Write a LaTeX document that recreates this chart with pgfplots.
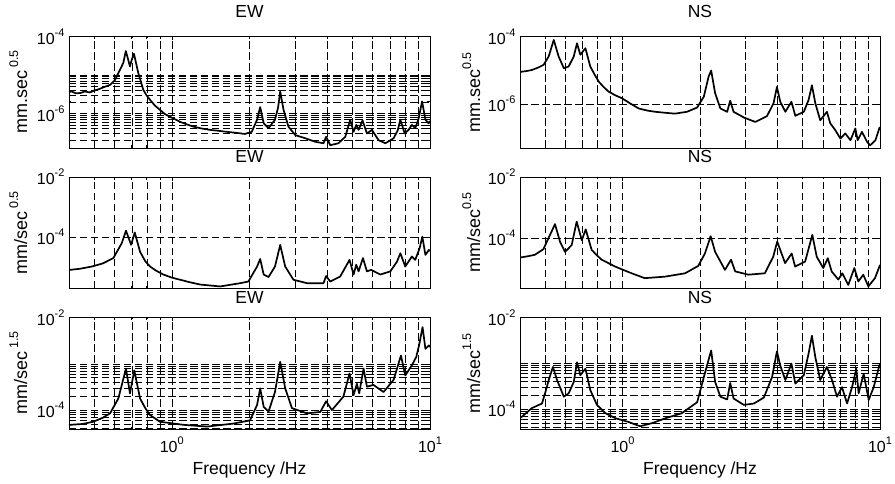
\documentclass[border=0pt]{standalone}
\usepackage{fontspec}
\setmainfont{Liberation Sans}
\usepackage{pgfplots}
\pgfplotsset{compat=1.18}
\newcommand\sups[1]{\raisebox{8pt}{\fontsize{11}{11}\selectfont #1}}
\newcommand\lsup[1]{\raisebox{9pt}{\fontsize{12.5}{12.5}\selectfont #1}}
\pgfplotsset{
  myax/.style={
    scale only axis,
    height=111.5pt,
    xmin=0.4, xmax=10,
    xtick={1,10},
    xticklabels={},
    minor xtick={0.5,0.6,0.7,0.8,0.9,2,3,4,5,6,7,8,9},
    xmajorgrids, xminorgrids, ymajorgrids,
    major grid style={black, line width=0.45pt, dash pattern=on 7.5pt off 3.5pt},
    minor grid style={black, line width=0.45pt, dash pattern=on 7.5pt off 3.5pt},
    axis line style={black, line width=0.9pt},
    tick align=inside,
    major tick length=4pt, minor tick length=2.5pt,
    tick style={black, line width=0.5pt},
    tick label style={font=\fontsize{16}{19}\selectfont},
    yticklabel style={anchor=east, xshift=-1pt},
    xticklabel style={anchor=north, yshift=-4pt},
    title style={font=\fontsize{17.5}{20}\selectfont, anchor=base},
    ylabel style={font=\fontsize{18}{20}\selectfont, anchor=base},
    xlabel style={font=\fontsize{17.5}{20}\selectfont, anchor=base, at={(axis description cs:0.5,-0.412)}},
  },
  myleft/.style={width=361pt, ylabel style={at={(axis description cs:-0.1163,0.5)}}},
  myright/.style={width=360pt, ylabel style={at={(axis description cs:-0.111,0.5)}}},
  mytop/.style={title style={at={(axis description cs:0.5,1.117)}}},
  mymid/.style={title style={at={(axis description cs:0.5,1.075)}}},
  mybot/.style={title style={at={(axis description cs:0.5,1.07)}},
     xticklabels={10\sups{0},10\sups{1}}, xlabel={Frequency /Hz}},
}
\tikzset{mycurve/.style={black, line width=1.7pt, line join=round}}
\begin{document}
\begin{tikzpicture}
\useasboundingbox (0pt,0pt) rectangle (895pt,484pt);

% ---------- Top left ----------
\begin{loglogaxis}[myax, myleft, mytop, at={(69pt,336pt)}, anchor=south west,
  title={EW}, ylabel={mm.sec\,\lsup{0.5}},
  ymin=1.25e-7, ymax=1e-4, ytick={1e-6,1e-4},
  yticklabels={10\sups{-6},10\sups{-4}},
  yminorgrids,
  minor ytick={2e-7,3e-7,4e-7,5e-7,6e-7,7e-7,8e-7,9e-7,2e-6,3e-6,4e-6,5e-6,6e-6,7e-6,8e-6,9e-6,1e-5}]
\addplot[mycurve] coordinates {
(0.40,3.6e-6)(0.41,3.7e-6)(0.425,3.3e-6)(0.445,3.4e-6)(0.46,3.7e-6)(0.482,3.5e-6)(0.50,3.9e-6)(0.52,4.2e-6)(0.55,4.9e-6)(0.577,5.5e-6)(0.603,7.4e-6)(0.631,1.38e-5)
(0.649,2.04e-5)(0.664,4.17e-5)(0.677,2.6e-5)(0.689,1.66e-5)(0.70,2.5e-5)(0.714,3.55e-5)(0.742,1.12e-5)
(0.776,4.07e-6)(0.80,2.9e-6)(0.824,2.24e-6)(0.86,1.6e-6)(0.90,1.23e-6)(0.94,9.6e-7)(0.985,8.1e-7)(1.077,6.0e-7)
(1.14,5.2e-7)(1.213,4.5e-7)(1.31,4.0e-7)(1.41,3.7e-7)(1.52,3.5e-7)(1.63,3.3e-7)(1.78,3.1e-7)(1.92,2.9e-7)(2.04,3.3e-7)(2.14,6.8e-7)
(2.20,1.45e-6)(2.27,5.5e-7)(2.37,4.1e-7)(2.51,6.8e-7)(2.58,1.4e-6)(2.63,3.7e-6)(2.71,1.23e-6)
(2.83,4.5e-7)(3.01,2.7e-7)(3.29,2.24e-7)(3.59,1.82e-7)(3.87,1.66e-7)(3.96,2.45e-7)
(4.11,1.48e-7)(4.42,1.66e-7)(4.70,2.45e-7)(4.91,6.8e-7)(5.06,3.3e-7)(5.18,5.0e-7)
(5.29,3.7e-7)(5.48,6.5e-7)(5.70,3.0e-7)(5.96,3.7e-7)(6.32,2.0e-7)(6.72,1.66e-7)
(7.23,2.24e-7)(7.50,3.6e-7)(7.68,6.8e-7)(7.98,3.0e-7)(8.26,3.7e-7)(8.51,5.0e-7)(8.77,4.1e-7)
(9.04,7.4e-7)(9.32,2.04e-6)(9.6,6.8e-7)(9.88,5.5e-7)(10,6.3e-7)
};
\end{loglogaxis}

% ---------- Top right ----------
\begin{loglogaxis}[myax, myright, mytop, at={(520pt,336pt)}, anchor=south west,
  title={NS}, ylabel={mm.sec\lsup{0.5}},
  ymin=5e-8, ymax=1e-4, ytick={1e-6,1e-4},
  yticklabels={10\sups{-6},10\sups{-4}}]
\addplot[mycurve] coordinates {
(0.40,8.8e-6)(0.407,9.1e-6)(0.425,9.5e-6)(0.445,1.02e-5)(0.47,1.2e-5)(0.494,1.45e-5)(0.517,2.57e-5)(0.541,7.9e-5)(0.565,2.57e-5)
(0.592,1.15e-5)(0.618,1.29e-5)(0.647,2.57e-5)(0.666,6.3e-5)(0.686,2.88e-5)(0.718,4.5e-5)
(0.750,1.29e-5)(0.78,7.4e-6)(0.809,4.6e-6)(0.845,3.2e-6)(0.883,2.34e-6)(0.94,1.8e-6)(0.996,1.48e-6)(1.07,1.05e-6)(1.156,7.4e-7)(1.25,6.4e-7)(1.34,5.9e-7)
(1.47,5.5e-7)(1.60,5.2e-7)(1.78,5.9e-7)(1.95,7.9e-7)(2.07,1.66e-6)(2.16,6.5e-6)(2.21,9.8e-6)(2.29,2.09e-6)
(2.40,7.4e-7)(2.55,5.9e-7)(2.62,1.26e-6)(2.70,5.9e-7)(2.96,4.0e-7)(3.28,2.95e-7)
(3.64,4.4e-7)(3.86,1.05e-6)(3.98,3.2e-6)(4.10,1.17e-6)(4.29,5.9e-7)(4.53,1.17e-6)
(4.69,4.5e-7)(5.06,5.9e-7)(5.28,1.32e-6)(5.44,3.6e-6)(5.61,1.05e-6)(5.86,3.3e-7)
(6.22,5.9e-7)(6.41,2.7e-7)(6.70,1.7e-7)(7.02,9.5e-8)(7.33,1.35e-7)(7.68,8.5e-8)
(8.02,1.9e-7)(8.19,8.5e-8)(8.51,1.5e-7)(8.91,7.6e-8)(9.16,6.0e-8)(9.60,8.5e-8)(9.98,2.1e-7)
};
\end{loglogaxis}

% ---------- Middle left ----------
\begin{loglogaxis}[myax, myleft, mymid, at={(69pt,195.5pt)}, anchor=south west,
  title={EW}, ylabel={mm/sec\,\lsup{0.5}},
  ymin=2.0e-6, ymax=1e-2, ytick={1e-4,1e-2},
  yticklabels={10\sups{-4},10\sups{-2}}]
\addplot[mycurve] coordinates {
(0.40,8.0e-6)(0.404,8.3e-6)(0.44,9.0e-6)(0.49,1.07e-5)(0.54,1.35e-5)(0.594,2.04e-5)(0.64,6.3e-5)(0.665,1.66e-4)
(0.696,5.6e-5)(0.719,1.45e-4)(0.754,3.3e-5)(0.79,1.6e-5)(0.824,1.07e-5)(0.87,7.8e-6)(0.928,5.8e-6)(1.0,4.6e-6)(1.077,3.9e-6)
(1.18,3.2e-6)(1.29,2.7e-6)(1.54,2.34e-6)(1.84,3.0e-6)(1.98,3.4e-6)(2.14,1.07e-5)(2.20,1.9e-5)
(2.27,5.8e-6)(2.37,4.8e-6)(2.51,1.07e-5)(2.63,5.6e-5)(2.75,1.07e-5)(2.96,3.9e-6)
(3.34,3.0e-6)(3.87,3.0e-6)(3.96,5.2e-6)(4.11,3.4e-6)(4.49,5.0e-6)(4.88,1.78e-5)
(5.06,5.8e-6)(5.18,1.23e-5)(5.29,7.4e-6)(5.50,2.04e-5)(5.70,7.4e-6)(5.92,8.3e-6)
(6.42,5.8e-6)(7.02,7.4e-6)(7.45,1.55e-5)(7.68,2.95e-5)(8.02,1.07e-5)(8.51,2.3e-5)
(8.77,1.78e-5)(9.12,4.4e-5)(9.34,1.05e-4)(9.6,2.6e-5)(9.9,3.8e-5)(10,3.5e-5)
};
\end{loglogaxis}

% ---------- Middle right ----------
\begin{loglogaxis}[myax, myright, mymid, at={(520pt,195.5pt)}, anchor=south west,
  title={NS}, ylabel={mm/sec\lsup{0.5}},
  ymin=2.3e-6, ymax=1e-2, ytick={1e-4,1e-2},
  yticklabels={10\sups{-4},10\sups{-2}}]
\addplot[mycurve] coordinates {
(0.40,2.3e-5)(0.406,2.4e-5)(0.43,2.6e-5)(0.457,2.9e-5)(0.493,4.4e-5)(0.547,2.9e-4)(0.572,7.8e-5)(0.598,3.6e-5)
(0.635,6.0e-5)(0.664,3.5e-4)(0.695,8.7e-5)(0.72,1.95e-4)(0.759,4.2e-5)(0.795,2.8e-5)(0.830,2.0e-5)
(0.936,1.2e-5)(1.01,9.2e-6)(1.086,7.2e-6)(1.22,5.0e-6)(1.46,5.6e-6)(1.75,7.2e-6)(1.97,1.26e-5)
(2.09,3.2e-5)(2.20,1.17e-4)(2.29,3.6e-5)(2.50,9.3e-6)(2.64,2.0e-5)(2.74,8.3e-6)
(3.08,6.5e-6)(3.57,7.2e-6)(3.85,2.5e-5)(3.99,7.8e-5)(4.28,1.55e-5)(4.54,3.2e-5)
(4.68,1.2e-5)(5.12,1.74e-5)(5.46,1.29e-4)(5.68,2.5e-5)(6.02,1.07e-5)(6.27,2.24e-5)
(6.49,8.3e-6)(6.89,4.5e-6)(7.14,7.2e-6)(7.53,3.0e-6)(7.95,1.07e-5)(8.24,3.9e-6)
(8.61,6.5e-6)(9.01,2.7e-6)(9.56,5.0e-6)(10,1.35e-5)
};
\end{loglogaxis}

% ---------- Bottom left ----------
\begin{loglogaxis}[myax, myleft, mybot, at={(69pt,55pt)}, anchor=south west,
  title={EW}, ylabel={mm/sec\,\lsup{1.5}},
  ymin=3.9e-5, ymax=1e-2, ytick={1e-4,1e-2},
  yticklabels={10\sups{-4},10\sups{-2}},
  yminorgrids,
  minor ytick={4e-5,5e-5,6e-5,7e-5,8e-5,9e-5,2e-4,3e-4,4e-4,5e-4,6e-4,7e-4,8e-4,9e-4,1e-3}]
\addplot[mycurve] coordinates {
(0.40,4.7e-5)(0.404,4.8e-5)(0.45,5.0e-5)(0.497,5.6e-5)(0.54,6.8e-5)(0.577,8.5e-5)(0.621,1.78e-4)(0.665,7.9e-4)
(0.689,2.3e-4)(0.716,7.2e-4)(0.754,1.78e-4)(0.79,1.1e-4)(0.824,7.8e-5)(0.90,5.6e-5)(1.11,4.8e-5)
(1.37,4.4e-5)(1.73,5.1e-5)(2.01,6.0e-5)(2.14,1.29e-4)(2.20,2.95e-4)(2.27,1.17e-4)
(2.37,9.3e-5)(2.51,2.45e-4)(2.63,1.10e-3)(2.75,2.95e-4)(2.92,1.10e-4)(3.34,8.5e-5)
(3.76,9.1e-5)(3.96,1.55e-4)(4.17,1.0e-4)(4.62,1.95e-4)(4.88,6.2e-4)(5.06,2.1e-4)
(5.21,3.7e-4)(5.32,2.3e-4)(5.53,7.9e-4)(5.70,3.2e-4)(6.04,3.5e-4)(6.61,2.45e-4)
(7.23,4.5e-4)(7.72,1.51e-3)(8.02,5.6e-4)(8.51,9.3e-4)(8.85,1.41e-3)(9.07,2.5e-3)
(9.36,6.2e-3)(9.6,2.1e-3)(9.9,2.5e-3)(10,2.3e-3)
};
\end{loglogaxis}

% ---------- Bottom right ----------
\begin{loglogaxis}[myax, myright, mybot, at={(520pt,55pt)}, anchor=south west,
  title={NS}, ylabel={mm/sec\lsup{1.5}},
  ymin=3.66e-5, ymax=1e-2, ytick={1e-4,1e-2},
  yticklabels={10\sups{-4},10\sups{-2}},
  yminorgrids,
  minor ytick={4e-5,5e-5,6e-5,7e-5,8e-5,9e-5,2e-4,3e-4,4e-4,5e-4,6e-4,7e-4,8e-4,9e-4,1e-3}]
\addplot[mycurve] coordinates {
(0.40,6.5e-5)(0.407,6.8e-5)(0.445,1.05e-4)(0.487,1.32e-4)(0.502,2.34e-4)(0.517,4.3e-4)(0.537,8.3e-4)
(0.557,4.3e-4)(0.592,1.86e-4)(0.618,2.2e-4)(0.647,3.9e-4)(0.666,1.05e-3)(0.686,5.5e-4)
(0.718,7.6e-4)(0.750,2.6e-4)(0.796,1.23e-4)(0.858,8.1e-5)(0.938,6.3e-5)(1.057,5.2e-5)
(1.17,4.2e-5)(1.30,4.9e-5)(1.47,6.3e-5)(1.70,8.1e-5)(1.95,1.41e-4)(2.07,5.0e-4)
(2.21,1.91e-3)(2.29,3.9e-4)(2.40,1.86e-4)(2.55,1.62e-4)(2.62,3.7e-4)(2.70,1.70e-4)
(2.96,1.23e-4)(3.24,1.32e-4)(3.54,1.78e-4)(3.81,5.0e-4)(3.98,1.82e-3)(4.10,8.9e-4)
(4.29,4.3e-4)(4.53,9.8e-4)(4.69,3.6e-4)(5.06,5.5e-4)(5.28,1.62e-3)(5.44,4.0e-3)
(5.61,1.35e-3)(5.86,4.3e-4)(6.22,8.3e-4)(6.51,4.3e-4)(6.81,1.86e-4)(7.12,3.0e-4)
(7.45,1.32e-4)(7.79,3.0e-4)(8.09,7.6e-4)(8.26,2.2e-4)(8.64,5.9e-4)(9.04,1.58e-4)
(9.45,3.0e-4)(9.94,8.9e-4)(10,1.0e-3)
};
\end{loglogaxis}
\end{tikzpicture}
\end{document}
